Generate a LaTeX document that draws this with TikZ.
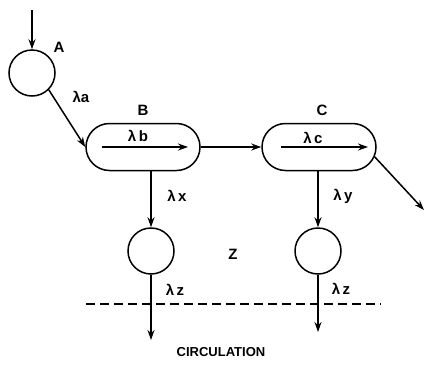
\documentclass[tikz,border=0pt]{standalone}
\usepackage{fontspec}
\setmainfont{Liberation Sans}
\usetikzlibrary{arrows.meta,shapes.misc}
\begin{document}
\begin{tikzpicture}[x=1pt,y=-1pt,
  line width=1.5pt,
  arr/.style={-{Stealth[length=10pt,width=7pt]}},
  pool/.style={draw,circle,minimum size=46pt,inner sep=0pt},
  tank/.style={draw,rounded rectangle,minimum width=114pt,minimum height=47pt,inner sep=0pt},
  lbl/.style={font=\bfseries\fontsize{15}{17}\selectfont,inner sep=0pt},
  foot/.style={font=\bfseries\fontsize{13}{15}\selectfont,inner sep=0pt}]
\useasboundingbox (0,0) rectangle (428,370);
\node[pool] (A) at (32,73) {};
\node[tank] (B) at (143,147) {};
\node[tank] (C) at (319,147) {};
\node[pool] (X) at (151,251) {};
\node[pool] (Y) at (318,251) {};
\coordinate (in) at (32,10);
\coordinate (out) at (424,210);
\coordinate (xo) at (151,340);
\coordinate (yo) at (318,332);
\coordinate (b1) at (102,147);
\coordinate (b2) at (188,147);
\coordinate (c1) at (281,147);
\coordinate (c2) at (368,147);
\coordinate (d1) at (86,304);
\coordinate (d2) at (381,304);
\draw[arr] (in) -- (A.north);
\draw[arr] (A.-45) -- (B.west);
\draw[arr] (B.east) -- (C.west);
\draw[arr] (C.-10) -- (out);
\draw[arr] (b1) -- (b2);
\draw[arr] (c1) -- (c2);
\draw[arr] (B.south -| X) -- (X.north);
\draw[arr] (C.south -| Y) -- (Y.north);
\draw[arr] (X.south) -- (xo);
\draw[arr] (Y.south) -- (yo);
\draw[dashed,dash pattern=on 9pt off 5pt,line width=1.2pt] (d1) -- (d2);
\node[lbl] (lA) at (59,47) {A};
\node[lbl] (la) at (81,97) {λa};
\node[lbl] (lB) at (143,110) {B};
\node[lbl] (lb) at (138,136) {λ\,b};
\node[lbl] (lC) at (322,110) {C};
\node[lbl] (lc) at (313,138) {λ\,c};
\node[lbl] (lx) at (177,196) {λ\,x};
\node[lbl] (ly) at (343,196) {λ\,y};
\node[lbl] (lz1) at (175,290) {λ\,z};
\node[lbl] (lz2) at (341,289) {λ\,z};
\node[lbl] (lZ) at (233,254) {Z};
\node[foot] (circ) at (221,352) {CIRCULATION};
\end{tikzpicture}
\end{document}
